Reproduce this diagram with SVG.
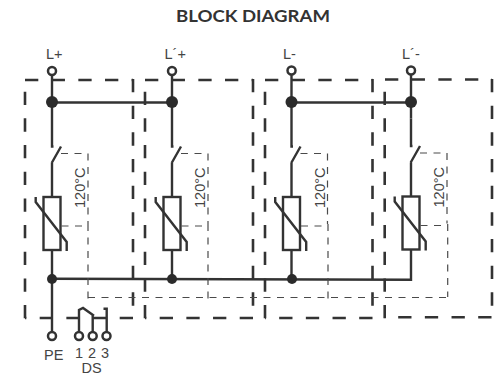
<svg xmlns="http://www.w3.org/2000/svg" width="504" height="376" viewBox="0 0 504 376">
<defs>
<style>
text{font-family:"Liberation Sans",Arial,sans-serif;font-size:14.5px;fill:#444}
.title{font-family:Lato,"Liberation Sans",sans-serif;font-weight:700;font-size:17.5px;fill:#333}
.w{fill:none;stroke:#333;stroke-width:2.4}
.box{fill:none;stroke:#333;stroke-width:2.6;stroke-dasharray:13.3 13.37}
.th{fill:none;stroke:#4a4a4a;stroke-width:1.2;stroke-dasharray:7 6.500}
.r{fill:#fff;stroke:#333;stroke-width:2.4}
.t{fill:#fff;stroke:#333;stroke-width:2.5}
.d{fill:#2b2b2b}
</style>
<g id="varistor">
<path class="w" d="M0 -31V-3.500H1.500M-0.300 13L9 -3.500M0 13V47"/>
<path class="th" d="M9 3.500H36V74"/>
<rect class="r" x="-8.500" y="47" width="17" height="53"/>
<path class="w" d="M-16.300 47V52L14.700 92V101"/>
<path class="th" d="M9.500 76H36"/>
</g>
</defs>
<rect width="504" height="376" fill="#fff"/>
<text class="title" x="176" y="22" textLength="154" lengthAdjust="spacingAndGlyphs">BLOCK DIAGRAM</text>
<g id="frames">
<path class="box" d="M25 80H133"/><path class="box" d="M133 79V306"/><path class="box" d="M25 91.700V319"/><path class="box" d="M133 318H25"/>
<path class="box" d="M145 80H253"/><path class="box" d="M253 79V306"/><path class="box" d="M145 91.700V319"/><path class="box" d="M253 318H145"/>
<path class="box" d="M265 80H372.500"/><path class="box" d="M372.500 79V306"/><path class="box" d="M265 91.700V319"/><path class="box" d="M372.500 318H265"/>
<path class="box" d="M385 79.500H492"/><path class="box" d="M492 79V306"/><path class="box" d="M384.700 91.700V319"/><path class="box" d="M491.500 317.300H384.700"/>
</g>
<g id="connectors">
<path class="w" d="M52 75V119M172 75V119M291.500 75V119M411 75V118.500"/>
<path class="w" d="M52 102.500H172M291.500 102.500H411"/>
<path class="w" d="M52 278.700L411 279.700V250"/>
<path class="w" d="M52 250V332M172 250V279M291.500 250V279"/>
<path class="th" d="M88 297.500H448"/>
<path class="th" d="M88 224V302"/><path class="th" d="M208 224V302"/><path class="th" d="M328 224V302"/><path class="th" d="M447.700 224V297"/>
</g>
<g id="node-l1"><use href="#varistor" transform="translate(52,150)"/><circle class="t" cx="52" cy="71" r="4"/><circle class="d" cx="52" cy="102" r="6"/><circle class="d" cx="52" cy="279" r="5"/><text x="46" y="58.500">L+</text><text transform="translate(84.500,208) rotate(-90)">120°C</text></g>
<g id="node-l2"><use href="#varistor" transform="translate(172,150)"/><circle class="t" cx="172" cy="71" r="4"/><circle class="d" cx="172" cy="102" r="6"/><circle class="d" cx="172" cy="279" r="5"/><text x="164.500" y="58.500">L´+</text><text transform="translate(204.500,208) rotate(-90)">120°C</text></g>
<g id="node-l3"><use href="#varistor" transform="translate(291.500,150)"/><circle class="t" cx="291.500" cy="70.500" r="4"/><circle class="d" cx="291.500" cy="102" r="6"/><circle class="d" cx="292" cy="279" r="5"/><text x="283" y="58.500">L-</text><text transform="translate(324.500,208) rotate(-90)">120°C</text></g>
<g id="node-l4"><use href="#varistor" transform="translate(411,149.500)"/><circle class="t" cx="411" cy="70.500" r="4"/><circle class="d" cx="411" cy="102" r="6"/><text x="402" y="58.500">L´-</text><text transform="translate(444,207.500) rotate(-90)">120°C</text></g>
<g id="node-pe"><circle class="t" cx="52" cy="336" r="4"/><text x="44" y="360">PE</text></g>
<g id="node-ds">
<path class="w" d="M79 332V310L83 308L94 315.700M92.700 315V332M106.700 332V308.700H103.500"/>
<circle class="t" cx="79" cy="336" r="4"/><circle class="t" cx="92.700" cy="336" r="4"/><circle class="t" cx="106.500" cy="336" r="4"/>
<text x="75" y="358">1</text><text x="88" y="358">2</text><text x="101" y="358">3</text><text x="81.500" y="373">DS</text>
</g>
</svg>
